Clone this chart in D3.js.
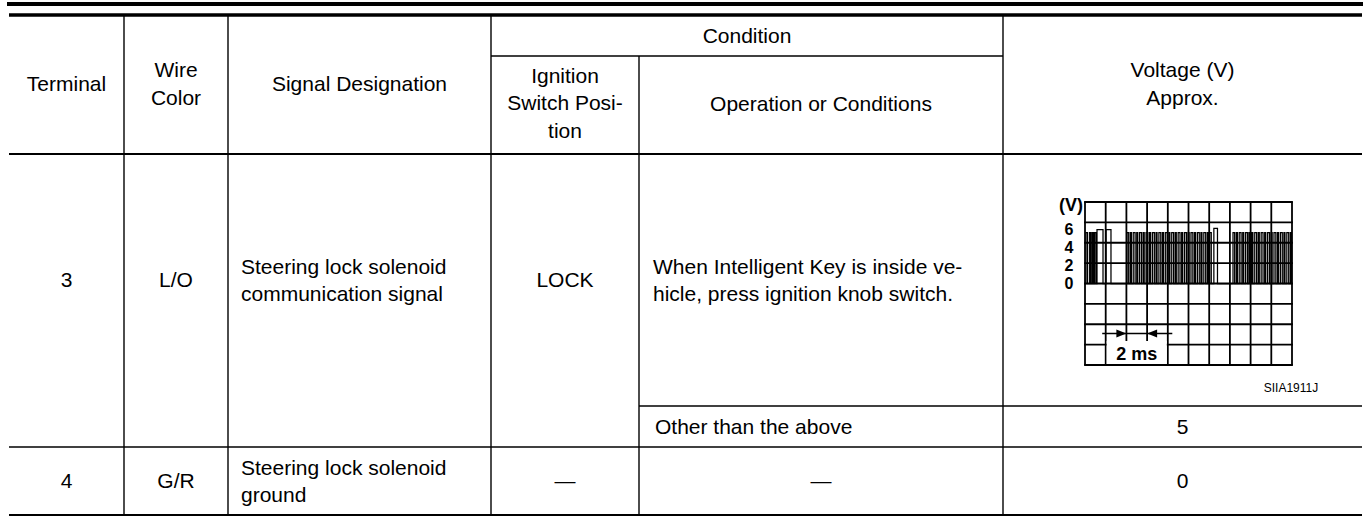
<!DOCTYPE html>
<html>
<head>
<meta charset="utf-8">
<script src="https://cdn.jsdelivr.net/npm/d3@7"></script>
<style>
  html, body { margin: 0; padding: 0; background: #fff; }
  svg { display: block; }
</style>
</head>
<body>
<svg id="chart" width="1366" height="516"></svg>
<script>
// ---------------- DATA ----------------
const groupHeader = "Condition";
const headerTexts = ["Terminal", "Wire\nColor", "Signal Designation", "Ignition\nSwitch Posi-\ntion", "Operation or Conditions", "Voltage (V)\nApprox."];
const terminals = ["3", "4"];
const wireColors = ["L/O", "G/R"];
const signalNames = ["Steering lock solenoid\ncommunication signal", "Steering lock solenoid\nground"];
const ignitionPositions = ["LOCK", "\u2014"];
const conditionTexts = ["When Intelligent Key is inside ve-\nhicle, press ignition knob switch.", "Other than the above", "\u2014"];
const voltageTexts = ["5", "0"];
const voltTicks = ["6", "4", "2", "0"];
const voltUnit = "(V)";
const timeLabel = "2 ms";
const figureCode = "SIIA1911J";
// waveform: high pulses [start ms, end ms, level V]
const pulsesBurst1 = [[0.10,0.25,5],[0.45,0.55,5],[0.68,0.80,5],[0.92,1.06,5],[1.16,1.74,5.3],[2.03,2.51,5.3]];
const pulsesBurst2 = [[4.06,4.22,5],[4.38,4.48,5],[4.66,4.84,5],[5.00,5.10,5],[5.28,5.46,5],[5.62,5.72,5],[5.90,6.08,5],[6.24,6.34,5],[6.52,6.70,5],[6.86,6.96,5],[7.14,7.32,5],[7.48,7.58,5],[7.76,7.94,5],[8.10,8.20,5],[8.38,8.56,5],[8.72,8.82,5],[9.00,9.18,5],[9.34,9.44,5],[9.62,9.80,5],[9.96,10.06,5],[10.24,10.42,5],[10.58,10.68,5],[10.86,11.04,5],[11.20,11.30,5],[11.48,11.66,5],[11.82,11.92,5],[12.04,12.20,5],[12.45,12.80,5.4]];
const pulsesBurst3 = [[14.30,14.46,5],[14.62,14.72,5],[14.90,15.08,5],[15.24,15.34,5],[15.52,15.70,5],[15.84,15.92,5],[15.98,16.06,5],[16.12,16.22,5],[16.40,16.58,5],[16.74,16.84,5],[17.02,17.20,5],[17.36,17.46,5],[17.64,17.82,5],[17.98,18.08,5],[18.26,18.44,5],[18.60,18.70,5],[18.88,19.06,5],[19.22,19.32,5],[19.50,19.68,5],[19.84,19.94,5]];
const timeDomain = [0, 20];
const voltDomain = [-8, 8];

// ---------------- LAYOUT ----------------
const FONT = "'Liberation Sans', Arial, Helvetica, sans-serif";
const FS = 21, LH = 27.5;
const colX = [9, 124, 228, 491, 639, 1003, 1362];
const Y = { top1: 4, top2: 15, cond: 56, head: 154, sub: 406, sep: 447, bottom: 515 };

const svg = d3.select("#chart");

function multiText(g, text, x, yc, anchor, opts = {}) {
  const lines = text.split("\n");
  const fs = opts.fs || FS, lh = opts.lh || LH;
  const y0 = yc - (lines.length - 1) * lh / 2 + 0.355 * fs;
  const t = g.append("text")
    .attr("x", x).attr("text-anchor", anchor)
    .attr("font-family", FONT).attr("font-size", fs)
    .attr("font-weight", opts.bold ? "bold" : "normal")
    .attr("fill", "#000");
  lines.forEach((l, i) => t.append("tspan").attr("x", x).attr("y", y0 + i * lh).text(l));
  return t;
}
const cx = i => (colX[i] + colX[i + 1]) / 2;

// ----- rules -----
const rules = svg.append("g").attr("stroke", "#000");
rules.append("line").attr("x1", 7).attr("x2", 1363).attr("y1", Y.top1).attr("y2", Y.top1).attr("stroke-width", 4);
rules.append("line").attr("x1", colX[0]).attr("x2", colX[6]).attr("y1", Y.top2).attr("y2", Y.top2).attr("stroke-width", 3.6);
rules.append("line").attr("x1", colX[3]).attr("x2", colX[5]).attr("y1", Y.cond).attr("y2", Y.cond).attr("stroke-width", 1.6);
rules.append("line").attr("x1", colX[0]).attr("x2", colX[6]).attr("y1", Y.head).attr("y2", Y.head).attr("stroke-width", 2.2);
rules.append("line").attr("x1", colX[4]).attr("x2", colX[6]).attr("y1", Y.sub).attr("y2", Y.sub).attr("stroke-width", 1.4);
rules.append("line").attr("x1", colX[0]).attr("x2", colX[6]).attr("y1", Y.sep).attr("y2", Y.sep).attr("stroke-width", 1.4);
rules.append("line").attr("x1", colX[0]).attr("x2", colX[6]).attr("y1", Y.bottom).attr("y2", Y.bottom).attr("stroke-width", 2);
[1, 2, 3, 5].forEach(i => rules.append("line").attr("x1", colX[i]).attr("x2", colX[i]).attr("y1", Y.top2 + 1).attr("y2", Y.bottom).attr("stroke-width", 1.4));
rules.append("line").attr("x1", colX[4]).attr("x2", colX[4]).attr("y1", Y.cond).attr("y2", Y.bottom).attr("stroke-width", 1.4);

// ----- header text -----
const txt = svg.append("g");
multiText(txt, groupHeader, (colX[3] + colX[5]) / 2, (Y.top2 + Y.cond) / 2, "middle");
const headYc = (Y.top2 + Y.head) / 2;
const subYc = (Y.cond + Y.head) / 2;
multiText(txt, headerTexts[0], cx(0), headYc - 1, "middle");
multiText(txt, headerTexts[1], cx(1), headYc - 1, "middle");
multiText(txt, headerTexts[2], cx(2), headYc - 1, "middle");
multiText(txt, headerTexts[3], cx(3), subYc - 2, "middle");
multiText(txt, headerTexts[4], cx(4), subYc - 1, "middle");
multiText(txt, headerTexts[5], cx(5), headYc - 1, "middle");

// ----- body text -----
const r1 = (Y.head + Y.sub) / 2, r1b = (Y.sub + Y.sep) / 2, r2 = (Y.sep + Y.bottom) / 2;
multiText(txt, terminals[0], cx(0), r1, "middle");
multiText(txt, wireColors[0], cx(1), r1, "middle");
multiText(txt, signalNames[0], colX[2] + 13, r1, "start");
multiText(txt, ignitionPositions[0], cx(3), r1, "middle");
multiText(txt, conditionTexts[0], colX[4] + 14, r1, "start");
multiText(txt, conditionTexts[1], colX[4] + 16, r1b, "start");
multiText(txt, voltageTexts[0], cx(5), r1b, "middle");
multiText(txt, terminals[1], cx(0), r2, "middle");
multiText(txt, wireColors[1], cx(1), r2, "middle");
multiText(txt, signalNames[1], colX[2] + 13, r2, "start");
multiText(txt, ignitionPositions[1], cx(3), r2, "middle");
multiText(txt, conditionTexts[2], cx(4), r2, "middle");
multiText(txt, voltageTexts[1], cx(5), r2, "middle");

// ----- oscilloscope -----
const scope = svg.append("g");
const x = d3.scaleLinear().domain(timeDomain).range([1085, 1292]);
const y = d3.scaleLinear().domain(voltDomain).range([365, 202]);
const gridStroke = 1.8;
d3.range(timeDomain[0], timeDomain[1] + 0.001, 2).forEach(t =>
  scope.append("line").attr("x1", x(t)).attr("x2", x(t)).attr("y1", y(8)).attr("y2", y(-8))
    .attr("stroke", "#000").attr("stroke-width", gridStroke));
d3.range(voltDomain[0], voltDomain[1] + 0.001, 2).forEach(v =>
  scope.append("line").attr("x1", x(0) - 0.9).attr("x2", x(20) + 0.9).attr("y1", y(v)).attr("y2", y(v))
    .attr("stroke", "#000").attr("stroke-width", gridStroke));

// waveform
const pts = [];
const allPulses = pulsesBurst1.concat(pulsesBurst2, pulsesBurst3);
pts.push([timeDomain[0], 0]);
allPulses.forEach(p => { pts.push([p[0], 0], [p[0], p[2]], [p[1], p[2]], [p[1], 0]); });
pts.push([timeDomain[1], 0]);
const line = d3.line().x(d => x(d[0])).y(d => y(d[1]));
scope.append("path").attr("d", line(pts)).attr("fill", "none").attr("stroke", "#000").attr("stroke-width", 1.25);

// 2 ms marker
const ay = 333.5;
scope.append("line").attr("x1", x(2) - 3.5).attr("x2", x(8) + 4.5).attr("y1", ay).attr("y2", ay).attr("stroke", "#000").attr("stroke-width", 1.3);
scope.append("path").attr("d", `M${x(4)},${ay} L${x(4) - 10},${ay - 4} L${x(4) - 10},${ay + 4} Z`).attr("fill", "#000");
scope.append("path").attr("d", `M${x(6)},${ay} L${x(6) + 10},${ay - 4} L${x(6) + 10},${ay + 4} Z`).attr("fill", "#000");
scope.append("rect").attr("x", x(2) + 1).attr("y", 341).attr("width", x(8) - x(2) - 2).attr("height", y(-8) - 341 - 1).attr("fill", "#fff");
scope.append("text").attr("x", (x(2) + x(8)) / 2).attr("y", 360).attr("text-anchor", "middle")
  .attr("font-family", FONT).attr("font-size", 18).attr("font-weight", "bold").text(timeLabel);

// voltage labels
voltTicks.forEach((t, i) => {
  scope.append("text").attr("x", 1069).attr("y", y(0) - (voltTicks.length - 1 - i) * 18 + 5.5)
    .attr("text-anchor", "middle").attr("font-family", FONT).attr("font-size", 16).attr("font-weight", "bold").text(t);
});
scope.append("text").attr("x", 1083).attr("y", 211).attr("text-anchor", "end")
  .attr("font-family", FONT).attr("font-size", 18).attr("font-weight", "bold").text(voltUnit);
scope.append("text").attr("x", 1291).attr("y", 392).attr("text-anchor", "middle")
  .attr("font-family", FONT).attr("font-size", 12).text(figureCode);
</script>
</body>
</html>
